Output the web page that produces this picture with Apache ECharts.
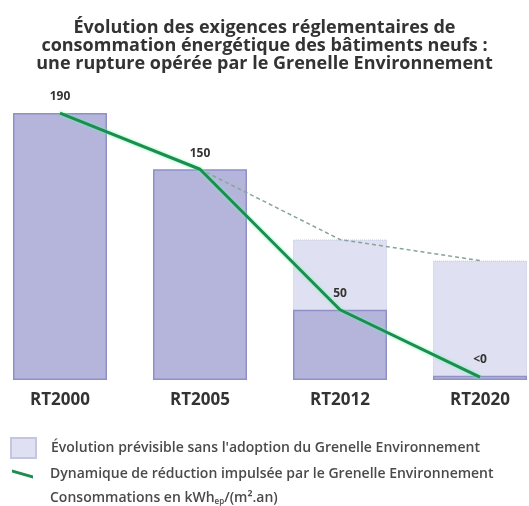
<!DOCTYPE html>
<html>
<head>
<meta charset="utf-8">
<script src="https://cdn.jsdelivr.net/npm/echarts@6/dist/echarts.min.js"></script>
<style>
    html, body { margin: 0; padding: 0; background: #ffffff; }
    #main { width: 529px; height: 506px; }
</style>
</head>
<body>
<div id="main"></div>
<script>
// --------------------------------------------------------------------------------------------------------------------
var categories = ['RT2000', 'RT2005', 'RT2012', 'RT2020'];
var consommation = [190, 150, 50, 3];
var consommationLabels = ['190', '150', '50', '<0'];
var previsible = [null, null, 100, 85];
var tendance = [null, 150, 100, 85];
var dynamique = [190, 150, 50, 2];

var nomPrevisible = "\u00c9volution pr\u00e9visible sans l'adoption du Grenelle Environnement";
var nomDynamique = "Dynamique de r\u00e9duction impuls\u00e9e par le Grenelle Environnement";
var police = 'Open Sans, Liberation Sans, sans-serif';
// --------------------------------------------------------------------------------------------------------------------
var chart = echarts.init(document.getElementById('main'));

var option = {
    animation: false,
    textStyle: { fontFamily: police },
    title: {
        text: '\u00c9volution des exigences r\u00e9glementaires de\nconsommation \u00e9nerg\u00e9tique des b\u00e2timents neufs :\nune rupture op\u00e9r\u00e9e par le Grenelle Environnement',
        left: 'center',
        top: 14,
        textStyle: {
            fontFamily: police,
            fontSize: 18,
            fontWeight: 'bold',
            color: '#333333',
            lineHeight: 18
        }
    },
    legend: [{
        orient: 'vertical',
        left: 5,
        top: 432,
        itemWidth: 25,
        itemHeight: 20,
        icon: 'rect',
        data: [nomPrevisible],
        textStyle: { fontFamily: police, fontSize: 14, fontWeight: 600, color: '#4a4a4a', padding: [0, 0, 0, 10] }
    }, {
        orient: 'vertical',
        left: 7,
        top: 462,
        itemWidth: 21,
        itemHeight: 9,
        data: [{ name: nomDynamique, icon: 'path://M0,0 L21,6 L21,9 L0,3 Z' }],
        textStyle: { fontFamily: police, fontSize: 14, fontWeight: 600, color: '#4a4a4a', padding: [0, 0, 0, 12] }
    }],
    graphic: [{
        type: 'text',
        left: 50,
        top: 491,
        style: {
            text: 'Consommations en kWh{sub|ep}/(m\u00b2.an)',
            fontSize: 14,
            fontWeight: 600,
            fill: '#4a4a4a',
            fontFamily: police,
            rich: {
                sub: { fontSize: 8, fontWeight: 600, fill: '#4a4a4a', fontFamily: police, padding: [7, 0, 0, 0] }
            }
        }
    }],
    grid: {
        left: 60,
        right: 49,
        top: 99,
        bottom: 126
    },
    xAxis: {
        type: 'category',
        data: categories,
        boundaryGap: false,
        axisLine: { show: false },
        axisTick: { show: false },
        axisLabel: {
            margin: 12,
            fontSize: 17,
            fontWeight: 'bold',
            color: '#333333',
            fontFamily: police
        }
    },
    yAxis: {
        type: 'value',
        min: 0,
        max: 200,
        show: false
    },
    series: [{
        name: nomPrevisible,
        type: 'bar',
        data: previsible,
        barWidth: 94,
        barGap: '-100%',
        itemStyle: {
            color: '#dfe0f1',
            borderColor: '#c4c5e2',
            borderWidth: 1,
            borderType: 'dotted'
        }
    }, {
        name: 'Consommations',
        type: 'bar',
        data: consommation,
        barWidth: 94,
        barGap: '-100%',
        itemStyle: {
            color: '#b5b5dc',
            borderColor: '#8f90c6',
            borderWidth: 1.5
        },
        label: {
            show: true,
            position: 'top',
            distance: 10,
            fontSize: 12,
            fontWeight: 'bold',
            color: '#333333',
            fontFamily: police,
            formatter: function (p) { return consommationLabels[p.dataIndex]; }
        }
    }, {
        name: 'Tendance',
        type: 'line',
        data: tendance,
        symbol: 'none',
        lineStyle: {
            color: '#86a596',
            width: 1.5,
            type: [4, 3]
        },
        z: 3
    }, {
        name: nomDynamique,
        type: 'line',
        data: dynamique,
        symbol: 'none',
        color: '#1f8c4f',
        lineStyle: {
            color: '#1f8c4f',
            width: 3,
            shadowColor: 'rgba(90,255,170,0.9)',
            shadowBlur: 3
        },
        z: 4
    }]
};

chart.setOption(option);
</script>
</body>
</html>
